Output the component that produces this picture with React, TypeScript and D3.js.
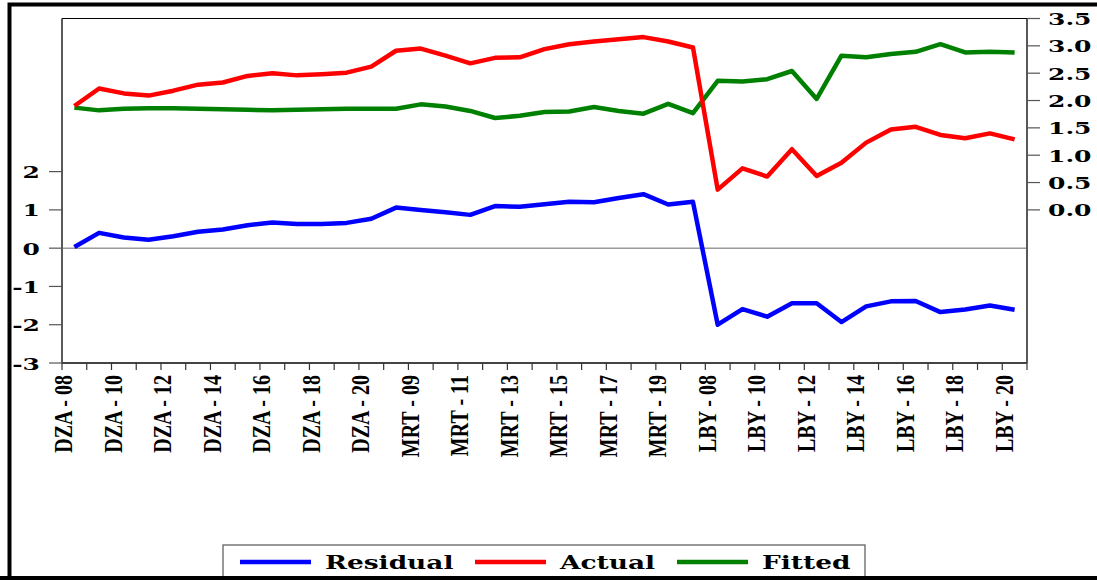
import React from 'react';
import * as d3 from 'd3';

const countries = ['DZA', 'MRT', 'LBY'];
const years = ['08', '09', '10', '11', '12', '13', '14', '15', '16', '17', '18', '19', '20'];
const categories = countries.flatMap((c) => years.map((y) => `${c} - ${y}`));

// one value per category
const residual = [
  0.03, 0.4, 0.28, 0.22, 0.31, 0.43, 0.49, 0.6, 0.67, 0.63, 0.63, 0.66, 0.77,
  1.06, 1.0, 0.94, 0.87, 1.1, 1.08, 1.15, 1.21, 1.2, 1.31, 1.41, 1.14, 1.21,
  -2.0, -1.59, -1.79, -1.44, -1.44, -1.93, -1.52, -1.39, -1.38, -1.67, -1.6, -1.5, -1.61,
];
const actual = [
  1.9, 2.22, 2.13, 2.09, 2.18, 2.29, 2.33, 2.45, 2.5, 2.46, 2.48, 2.51, 2.62,
  2.91, 2.95, 2.82, 2.68, 2.78, 2.79, 2.94, 3.03, 3.08, 3.12, 3.16, 3.08, 2.97,
  0.37, 0.76, 0.61, 1.11, 0.62, 0.86, 1.23, 1.47, 1.52, 1.37, 1.31, 1.4, 1.29,
];
const fitted = [
  1.87, 1.82, 1.85, 1.86, 1.86, 1.85, 1.84, 1.83, 1.82, 1.83, 1.84, 1.85, 1.85,
  1.85, 1.93, 1.89, 1.81, 1.68, 1.72, 1.79, 1.8, 1.88, 1.81, 1.76, 1.94, 1.77,
  2.36, 2.35, 2.39, 2.54, 2.03, 2.82, 2.79, 2.85, 2.89, 3.03, 2.88, 2.89, 2.88,
];

const leftTicks = [-3, -2, -1, 0, 1, 2];
const rightTicks = [0, 0.5, 1, 1.5, 2, 2.5, 3, 3.5];

const legendItems = [
  { name: 'Residual', color: '#0000ff', line: 240, text: 325 },
  { name: 'Actual', color: '#ff0000', line: 475, text: 560 },
  { name: 'Fitted', color: '#008000', line: 677, text: 762 },
];

const left = 62;
const right = 1027;
const top = 18.5;
const bottom = 363;
const stretch = 1.47; // labels in the picture are drawn wide

export default function App() {
  const x = d3.scaleBand().domain(categories).range([left, right]);
  const yL = d3.scaleLinear().domain([-3, 6]).range([bottom, top]);
  const yR = d3.scaleLinear().domain([-2.8, 3.5]).range([bottom, top]);

  const cx = (i: number) => (x(categories[i]) as number) + x.bandwidth() / 2;
  const lineL = d3.line<number>().x((_, i) => cx(i)).y((d) => yL(d));
  const lineR = d3.line<number>().x((_, i) => cx(i)).y((d) => yR(d));

  const boundaries = categories.map((c) => x(c) as number).concat([right]);
  const numFont = { fontFamily: 'DejaVu Serif', fontWeight: 700, fontSize: 17 };

  return (
    <svg width={1097} height={580} style={{ position: 'absolute', left: 0, top: 0 }}>
      <rect width={1097} height={580} fill="#fff" />
      {/* outer frame */}
      <rect x={9.5} y={4.5} width={1100} height={574} fill="none" stroke="#000" strokeWidth={4} />

      {/* plot frame */}
      <line x1={left} x2={right} y1={top} y2={top} stroke="#000" strokeWidth={1.2} />
      <line x1={left} x2={left} y1={top} y2={bottom} stroke="#222" strokeWidth={1.5} />
      <line x1={right} x2={right} y1={top} y2={bottom} stroke="#222" strokeWidth={1.5} />
      <line x1={left} x2={right} y1={bottom} y2={bottom} stroke="#444" strokeWidth={2} />
      <line x1={left} x2={right} y1={yL(0)} y2={yL(0)} stroke="#666" strokeWidth={1} />

      {/* left axis */}
      {leftTicks.map((t) => (
        <g key={'l' + t}>
          <line x1={49} x2={left} y1={yL(t)} y2={yL(t)} stroke="#555" strokeWidth={1.2} />
          <text transform={`translate(40,${yL(t) + 6.5}) scale(${stretch},1)`} textAnchor="end" style={numFont}>
            {t}
          </text>
        </g>
      ))}

      {/* right axis */}
      {rightTicks.map((t) => (
        <g key={'r' + t}>
          <line x1={right} x2={1040} y1={yR(t)} y2={yR(t)} stroke="#555" strokeWidth={1.2} />
          <text transform={`translate(1048,${yR(t) + 6.5}) scale(${stretch},1)`} textAnchor="start" style={numFont}>
            {t.toFixed(1)}
          </text>
        </g>
      ))}

      {/* bottom axis */}
      {boundaries.map((b, i) => (
        <line key={'b' + i} x1={b} x2={b} y1={bottom} y2={bottom + 7} stroke="#333" strokeWidth={1.2} />
      ))}
      {categories.map((c, i) =>
        i % 2 === 0 ? (
          <text
            key={c}
            transform={`translate(${cx(i) - 2},375) scale(1.3,1) rotate(-90)`}
            textAnchor="end"
            style={{ fontFamily: 'Liberation Serif', fontWeight: 700, fontSize: 20 }}
          >
            {c}
          </text>
        ) : null
      )}

      {/* series */}
      <path d={lineR(fitted) ?? ''} fill="none" stroke="#008000" strokeWidth={4.5} strokeLinejoin="round" />
      <path d={lineR(actual) ?? ''} fill="none" stroke="#ff0000" strokeWidth={4.5} strokeLinejoin="round" />
      <path d={lineL(residual) ?? ''} fill="none" stroke="#0000ff" strokeWidth={4.5} strokeLinejoin="round" />

      {/* legend */}
      <rect x={223} y={545} width={642} height={40} fill="#fff" stroke="#555" strokeWidth={1.2} />
      {legendItems.map((d) => (
        <g key={d.name}>
          <line x1={d.line} x2={d.line + 71} y1={562} y2={562} stroke={d.color} strokeWidth={4.5} />
          <text
            transform={`translate(${d.text},569) scale(1.39,1)`}
            style={{ fontFamily: 'DejaVu Serif', fontWeight: 700, fontSize: 19 }}
          >
            {d.name}
          </text>
        </g>
      ))}
      <line x1={0} x2={1097} y1={578} y2={578} stroke="#000" strokeWidth={4} />
    </svg>
  );
}
